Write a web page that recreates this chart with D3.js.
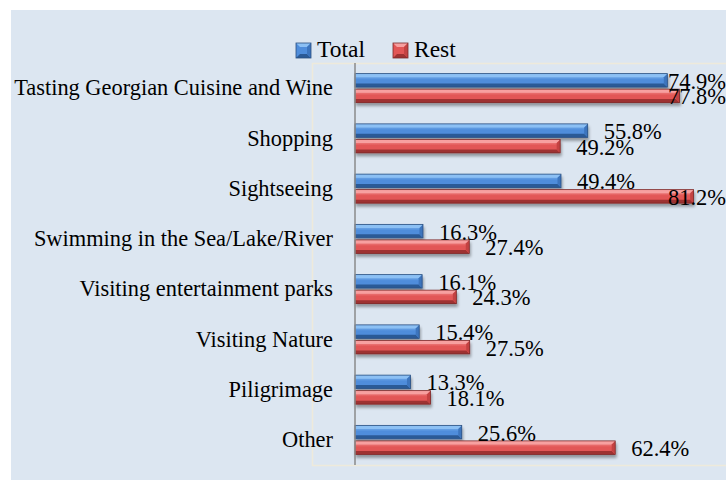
<!DOCTYPE html>
<html>
<head>
<meta charset="utf-8">
<script src="https://cdn.jsdelivr.net/npm/d3@7"></script>
<style>
  body { margin: 0; background: #fff; }
  svg text { font-family: "Liberation Serif", "Times New Roman", serif; fill: #000; }
</style>
</head>
<body>
<svg id="canvas" width="726" height="480"></svg>
<script>
// Data
var categories = [
  "Tasting Georgian Cuisine and Wine",
  "Shopping",
  "Sightseeing",
  "Swimming in the Sea/Lake/River",
  "Visiting entertainment parks",
  "Visiting Nature",
  "Piligrimage",
  "Other"
];
var seriesNames = ["Total", "Rest"];
var totalValues = [74.9, 55.8, 49.4, 16.3, 16.1, 15.4, 13.3, 25.6];
var restValues  = [77.8, 49.2, 81.2, 27.4, 24.3, 27.5, 18.1, 62.4];

var serif = "'Liberation Serif', 'Times New Roman', serif";

var colors = {
  Total: { light: "#8cc0f4", mid: "#4f8ddb", dark: "#2b5a96", side: "#3c74bd", line: "#2a4f80" },
  Rest:  { light: "#f7a0a0", mid: "#e25656", dark: "#9e3232", side: "#c44343", line: "#7c2a2a" }
};

var svg = d3.select("#canvas");
var W = +svg.attr("width"), H = +svg.attr("height");

// background panel
svg.append("rect")
  .attr("x", 11).attr("y", 10)
  .attr("width", W - 11).attr("height", H - 10)
  .attr("fill", "#dce6f1");

// plot area
var plot = { left: 312, top: 63, bottom: 465 };
svg.append("rect")
  .attr("x", plot.left + 0.5).attr("y", plot.top + 0.5)
  .attr("width", W).attr("height", plot.bottom - plot.top)
  .attr("fill", "none")
  .attr("stroke", "#eeeadb")
  .attr("stroke-width", 1.5);

var defs = svg.append("defs");
var shadow = defs.append("filter").attr("id", "shadow")
  .attr("x", "-5%").attr("y", "-30%").attr("width", "110%").attr("height", "180%");
shadow.append("feGaussianBlur").attr("in", "SourceAlpha").attr("stdDeviation", 1.5);
shadow.append("feOffset").attr("dx", 1).attr("dy", 2.5).attr("result", "off");
shadow.append("feComponentTransfer").append("feFuncA").attr("type", "linear").attr("slope", 0.35);
var merge = shadow.append("feMerge");
merge.append("feMergeNode");
merge.append("feMergeNode").attr("in", "SourceGraphic");

seriesNames.forEach(function(s) {
  var c = colors[s];
  var gr = defs.append("linearGradient").attr("id", "grad-" + s)
    .attr("x1", 0).attr("y1", 0).attr("x2", 0).attr("y2", 1);
  gr.append("stop").attr("offset", "0%").attr("stop-color", c.light);
  gr.append("stop").attr("offset", "45%").attr("stop-color", c.mid);
  gr.append("stop").attr("offset", "100%").attr("stop-color", c.mid);
});

// Scales
var x = d3.scaleLinear().domain([0, 100]).range([355, 355 + 417]);
var y = d3.scaleBand().domain(categories).range([plot.top, plot.bottom]);
var ySub = d3.scaleBand().domain(seriesNames).range([-14.5, 14.5]).paddingInner(0.13);

var rows = [];
categories.forEach(function(cat, i) {
  rows.push({ cat: cat, series: "Total", value: totalValues[i] });
  rows.push({ cat: cat, series: "Rest", value: restValues[i] });
});

// Bars
var bh = ySub.bandwidth(), b = 3.5;
var bars = svg.append("g").selectAll("g.bar")
  .data(rows).enter().append("g")
  .attr("class", "bar")
  .attr("filter", "url(#shadow)")
  .attr("transform", function(d) {
    return "translate(0," + (y(d.cat) + y.bandwidth() / 2 + ySub(d.series)) + ")";
  });

bars.append("rect")
  .attr("x", x(0)).attr("y", 0)
  .attr("width", function(d) { return x(d.value) - x(0); })
  .attr("height", bh)
  .attr("fill", function(d) { return "url(#grad-" + d.series + ")"; });
// top facet
bars.append("path")
  .attr("d", function(d) {
    var x0 = x(0), x1 = x(d.value);
    return "M" + x0 + ",0L" + x1 + ",0L" + (x1 - b) + "," + b + "L" + x0 + "," + b + "Z";
  })
  .attr("fill", function(d) { return colors[d.series].light; });
// bottom facet
bars.append("path")
  .attr("d", function(d) {
    var x0 = x(0), x1 = x(d.value);
    return "M" + x0 + "," + bh + "L" + x1 + "," + bh + "L" + (x1 - b) + "," + (bh - b) + "L" + x0 + "," + (bh - b) + "Z";
  })
  .attr("fill", function(d) { return colors[d.series].dark; });
// right facet
bars.append("path")
  .attr("d", function(d) {
    var x1 = x(d.value);
    return "M" + x1 + ",0L" + x1 + "," + bh + "L" + (x1 - b) + "," + (bh - b) + "L" + (x1 - b) + "," + b + "Z";
  })
  .attr("fill", function(d) { return colors[d.series].side; });
// outline
bars.append("rect")
  .attr("x", x(0)).attr("y", 0)
  .attr("width", function(d) { return x(d.value) - x(0); })
  .attr("height", bh)
  .attr("fill", "none")
  .attr("stroke", function(d) { return colors[d.series].line; })
  .attr("stroke-width", 0.8);

// axis line
svg.append("line")
  .attr("x1", x(0)).attr("x2", x(0))
  .attr("y1", plot.top).attr("y2", plot.bottom)
  .attr("stroke", "#8a8a8a").attr("stroke-width", 1.5);

// category labels
var yAxis = d3.axisLeft(y).tickSize(0).tickPadding(0);
var ax = svg.append("g")
  .attr("transform", "translate(333,0)")
  .call(yAxis);
ax.select(".domain").remove();
ax.attr("font-family", serif).attr("font-size", 22.4);
ax.selectAll("text")
  .attr("font-family", serif)
  .attr("font-size", 22.4)
  .attr("fill", "#000");

// data labels
svg.append("g").selectAll("text")
  .data(rows).enter().append("text")
  .attr("font-family", serif)
  .attr("font-size", 22.5)
  .attr("fill", "#000")
  .attr("dominant-baseline", "central")
  .attr("y", function(d) { return y(d.cat) + y.bandwidth() / 2 + ySub(d.series) + bh / 2 + 1; })
  .text(function(d) { return d3.format(".1f")(d.value) + "%"; })
  .each(function(d) {
    var w = this.getComputedTextLength();
    var xp = x(d.value) + 16;
    if (xp + w > W) xp = W - w;
    d3.select(this).attr("x", xp);
  });

// legend
var legend = svg.append("g").attr("transform", "translate(296,43)");
var lx = [0, 97];
seriesNames.forEach(function(s, i) {
  var c = colors[s];
  var g = legend.append("g").attr("transform", "translate(" + lx[i] + ",0)");
  var sz = 15, lb = 4;
  g.append("rect").attr("width", sz).attr("height", sz).attr("fill", c.mid);
  g.append("path").attr("d", "M0,0L" + sz + ",0L" + (sz - lb) + "," + lb + "L" + lb + "," + lb + "Z").attr("fill", c.light);
  g.append("path").attr("d", "M0," + sz + "L" + sz + "," + sz + "L" + (sz - lb) + "," + (sz - lb) + "L" + lb + "," + (sz - lb) + "Z").attr("fill", c.dark);
  g.append("path").attr("d", "M" + sz + ",0L" + sz + "," + sz + "L" + (sz - lb) + "," + (sz - lb) + "L" + (sz - lb) + "," + lb + "Z").attr("fill", c.side);
  g.append("rect").attr("width", sz).attr("height", sz).attr("fill", "none").attr("stroke", c.line).attr("stroke-width", 0.8);
  g.append("text")
    .attr("x", 21).attr("y", 14)
    .attr("font-family", serif)
    .attr("font-size", 23.5)
    .text(s);
});
</script>
</body>
</html>
